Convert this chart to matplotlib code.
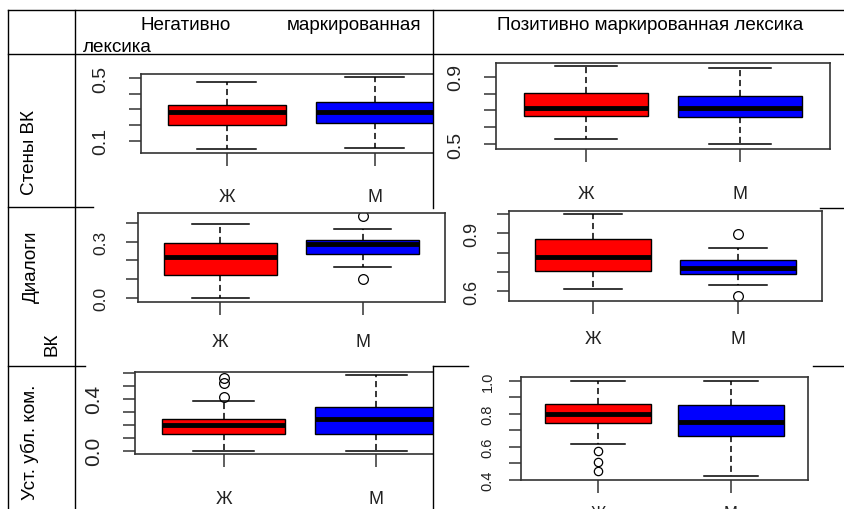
import matplotlib
matplotlib.use("Agg")
import matplotlib.pyplot as plt
from matplotlib.lines import Line2D

plt.rcParams['font.family'] = ['Liberation Sans', 'DejaVu Sans']

# --- данные: [нижний ус, Q1, медиана, Q3, верхний ус] ---
groups = ['Ж', 'М']
box_colors = ['#ff0000', '#0000ff']

neg_walls_f = [0.045, 0.202, 0.285, 0.330, 0.474]
neg_walls_m = [0.053, 0.213, 0.285, 0.347, 0.508]
pos_walls_f = [0.528, 0.668, 0.714, 0.801, 0.965]
pos_walls_m = [0.500, 0.659, 0.714, 0.784, 0.953]

neg_dialog_f = [0.000, 0.122, 0.218, 0.293, 0.395]
neg_dialog_m = [0.166, 0.232, 0.288, 0.309, 0.368]
neg_dialog_m_out = [0.438, 0.100]
pos_dialog_f = [0.609, 0.704, 0.779, 0.869, 1.000]
pos_dialog_m = [0.630, 0.687, 0.718, 0.761, 0.826]
pos_dialog_m_out = [0.899, 0.574]

neg_comment_f = [0.000, 0.130, 0.197, 0.243, 0.383]
neg_comment_f_out = [0.556, 0.517, 0.414]
neg_comment_m = [0.000, 0.130, 0.246, 0.333, 0.582]
pos_comment_f = [0.618, 0.747, 0.800, 0.858, 1.000]
pos_comment_f_out = [0.577, 0.506, 0.455]
pos_comment_m = [0.424, 0.667, 0.749, 0.852, 1.000]

row_titles = ['Стены ВК', 'Уст. убл. ком.']
col_titles = ['Негативно', 'маркированная', 'лексика', 'Позитивно маркированная лексика']

W, H = 844, 510
fig = plt.figure(figsize=(W / 100, H / 100), dpi=100)


def fx(x):
    return x / W


def fy(y):
    return 1 - y / H


def hline(y, x0, x1):
    fig.add_artist(Line2D([fx(x0), fx(x1)], [fy(y), fy(y)], transform=fig.transFigure,
                          color='black', lw=1.0))


def vline(x, y0, y1):
    fig.add_artist(Line2D([fx(x), fx(x)], [fy(y0), fy(y1)], transform=fig.transFigure,
                          color='black', lw=1.0))


def make_stats(v, fliers=()):
    return dict(whislo=v[0], q1=v[1], med=v[2], q3=v[3], whishi=v[4], fliers=list(fliers))


# таблица
hline(11, 8, 844)
hline(55, 8, 844)
vline(8, 11, 510)
vline(75, 11, 510)
vline(433, 11, 209)
vline(433, 367, 510)
hline(208, 8, 93)
hline(209, 820, 844)
hline(367, 8, 85)
hline(367, 433, 468)
hline(367, 813, 844)

# заголовки
fs = 13.6
fig.text(fx(140), fy(30), col_titles[0], fontsize=fs, ha='left', va='baseline')
fig.text(fx(421), fy(30), col_titles[1], fontsize=fs, ha='right', va='baseline')
fig.text(fx(83), fy(52), col_titles[2], fontsize=fs, ha='left', va='baseline')
fig.text(fx(650), fy(30), col_titles[3], fontsize=fs, ha='center', va='baseline')

fig.text(fx(30), fy(153), row_titles[0], fontsize=fs, rotation=90, ha='center', va='center')
fig.text(fx(31), fy(267), 'Диалоги', fontsize=fs, rotation=90, ha='center', va='center')
fig.text(fx(52), fy(344), 'ВК', fontsize=fs, rotation=90, ha='center', va='center')
fig.text(fx(30), fy(442), row_titles[1], fontsize=fs, rotation=90, ha='center', va='center')


def panel(box, xlim, ylim, yticks, ylabels, data_f, data_m, out_f=(), out_m=(),
          tfs=12, xfs=13, ypad=13, xpad=17, ms=7):
    l, t, r, b = box
    ax = fig.add_axes([fx(l), fy(b), (r - l) / W, (b - t) / H])
    stats = [make_stats(data_f, out_f), make_stats(data_m, out_m)]
    res = ax.bxp(stats, positions=[1, 2], widths=0.8, capwidths=0.4, patch_artist=True,
                 boxprops=dict(edgecolor='black', linewidth=1.0),
                 whiskerprops=dict(color='black', linewidth=1.1, linestyle=(0, (4, 2.5))),
                 capprops=dict(color='black', linewidth=1.1),
                 medianprops=dict(color='black', linewidth=3.5, solid_capstyle='butt'),
                 flierprops=dict(marker='o', markerfacecolor='none', markeredgecolor='black',
                                 markersize=ms, markeredgewidth=0.9))
    for patch, c in zip(res['boxes'], box_colors):
        patch.set_facecolor(c)
    ax.set_xlim(*xlim)
    ax.set_ylim(*ylim)
    ax.set_xticks([1, 2])
    ax.set_xticklabels(groups, fontsize=xfs)
    ax.set_yticks(yticks)
    ax.set_yticklabels([f'{v:.1f}' if v in ylabels else '' for v in yticks], fontsize=tfs)
    ax.tick_params(axis='y', labelrotation=90, length=9, width=1.1, color='#333333',
                   pad=ypad, labelcolor='#222222')
    ax.tick_params(axis='x', length=9, width=1.1, color='#333333', pad=xpad,
                   labelcolor='#222222')
    for lab in ax.get_yticklabels():
        lab.set_va('center')
    for s in ax.spines.values():
        s.set_color('#333333')
        s.set_linewidth(1.2)
    return ax


ax1 = panel((141, 75, 433, 154), (0.42, 2.393), (0.0215, 0.526),
            [0.1, 0.2, 0.3, 0.4, 0.5], [0.1, 0.5], neg_walls_f, neg_walls_m,
            tfs=14, ypad=14, xpad=16)
ax1.spines['right'].set_visible(False)

panel((496, 64, 830, 150), (0.42, 2.58), (0.470, 0.982),
      [0.5, 0.6, 0.7, 0.8, 0.9], [0.5, 0.9], pos_walls_f, pos_walls_m,
      tfs=14, ypad=14, xpad=17)

panel((138, 214, 445, 303), (0.42, 2.58), (-0.023, 0.454),
      [0.0, 0.1, 0.2, 0.3, 0.4], [0.0, 0.3], neg_dialog_f, neg_dialog_m,
      out_m=neg_dialog_m_out, tfs=12.5, ypad=12, xpad=13)

panel((509, 212, 822, 302), (0.42, 2.58), (0.548, 1.016),
      [0.6, 0.7, 0.8, 0.9, 1.0], [0.6, 0.9], pos_dialog_f, pos_dialog_m,
      out_m=pos_dialog_m_out, tfs=13, ypad=12, xpad=12)

ax5 = panel((135, 373, 433, 455), (0.42, 2.372), (-0.025, 0.605),
            [0.0, 0.1, 0.2, 0.3, 0.4, 0.5, 0.6], [0.0, 0.4], neg_comment_f, neg_comment_m,
            out_f=neg_comment_f_out, tfs=15, ypad=14, xpad=17)
ax5.spines['right'].set_visible(False)

panel((521, 378, 808, 481), (0.42, 2.58), (0.401, 1.023),
      [0.4, 0.5, 0.6, 0.7, 0.8, 0.9, 1.0], [0.4, 0.6, 0.8, 1.0], pos_comment_f, pos_comment_m,
      out_f=pos_comment_f_out, tfs=10.5, xfs=12, ypad=10, xpad=9, ms=6)

fig.savefig('out.png', dpi=100, facecolor='white')
